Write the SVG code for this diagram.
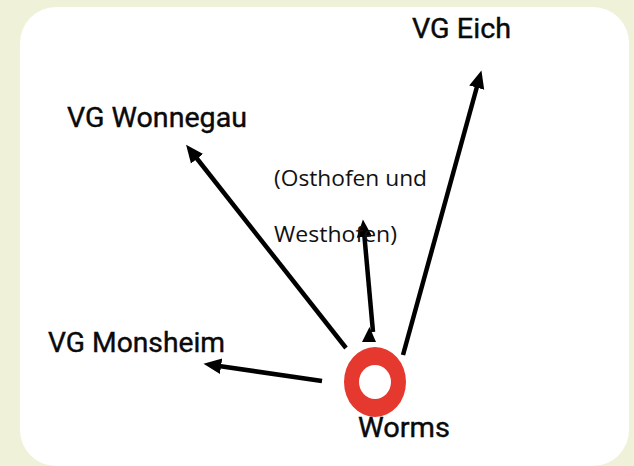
<svg xmlns="http://www.w3.org/2000/svg" width="634" height="466" viewBox="0 0 634 466">
<defs>
<style>
.lbl{font-family:Roboto,"DejaVu Sans",sans-serif;font-size:28px;font-weight:400;fill:#0a0a0a;stroke:#0a0a0a;stroke-width:0.4;}
.sub{font-family:"Open Sans","Noto Sans",sans-serif;font-size:22px;fill:#111;}
.con{stroke:#000;stroke-width:4.5;fill:none;}
</style>
<marker id="ah" markerUnits="userSpaceOnUse" markerWidth="20" markerHeight="20" refX="2" refY="0" viewBox="0 -8 18 16" orient="auto">
<path d="M0,-7 L16,0 L0,7 z" fill="#000"/>
</marker>
</defs>
<rect x="0" y="0" width="634" height="466" fill="#eff1d9"/>
<rect x="20" y="7" width="609" height="459" rx="36" ry="36" fill="#ffffff"/>
<g id="connectors">
<line class="con" x1="346" y1="348" x2="195.7" y2="157" marker-end="url(#ah)"/>
<line class="con" x1="403" y1="355" x2="477.3" y2="85.5" marker-end="url(#ah)"/>
<line class="con" x1="373" y1="332" x2="364.3" y2="234.9" marker-end="url(#ah)"/>
<polygon points="369.5,327 362,342 376,342" fill="#000"/>
<line class="con" x1="322" y1="381" x2="218.9" y2="366" marker-end="url(#ah)"/>
</g>
<g id="worms">
<path d="M344,382 a31,35 0 1,0 62,0 a31,35 0 1,0 -62,0 z M359,382 a16,17 0 1,0 32,0 a16,17 0 1,0 -32,0 z" fill="#e5392f" fill-rule="evenodd"/>
<text class="lbl" x="358" y="437" textLength="92" lengthAdjust="spacingAndGlyphs">Worms</text>
</g>
<g id="vg-eich">
<text class="lbl" x="412" y="38" textLength="99" lengthAdjust="spacingAndGlyphs">VG Eich</text>
</g>
<g id="vg-wonnegau">
<text class="lbl" x="67" y="127" textLength="180" lengthAdjust="spacingAndGlyphs">VG Wonnegau</text>
</g>
<g id="vg-monsheim">
<text class="lbl" x="48" y="352" textLength="177" lengthAdjust="spacingAndGlyphs">VG Monsheim</text>
</g>
<g id="osthofen-westhofen">
<text class="sub" x="274" y="186" textLength="153" lengthAdjust="spacingAndGlyphs">(Osthofen und</text>
<text class="sub" x="274" y="242" textLength="123" lengthAdjust="spacingAndGlyphs">Westhofen)</text>
</g>
</svg>
